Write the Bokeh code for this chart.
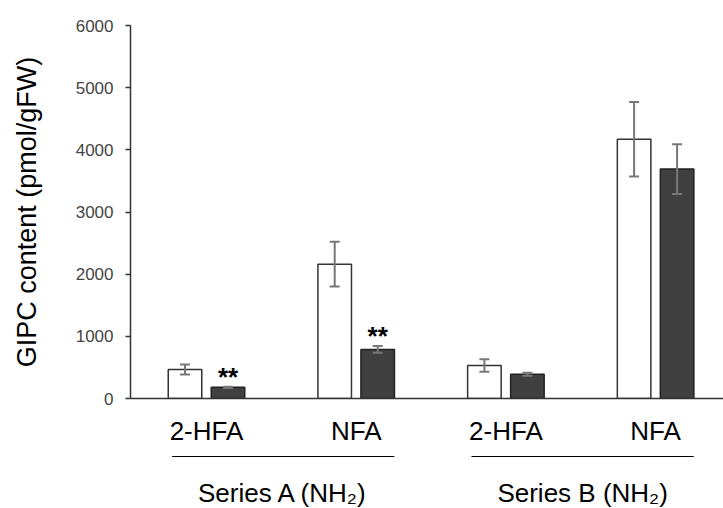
from bokeh.plotting import figure
from bokeh.layouts import column
from bokeh.models import ColumnDataSource, Whisker, TeeHead, FixedTicker, Range1d
from bokeh.core.properties import value
from bokeh.embed import file_html
from bokeh.resources import INLINE

# ---- data ----
groups = ["2-HFA", "NFA", "2-HFA", "NFA"]
series_names = ["Series A (NH\u2082)", "Series B (NH\u2082)"]
series_groups = [[0, 1], [2, 3]]
white_vals = [465, 2160, 530, 4170]
white_err = [80, 360, 100, 600]
dark_vals = [180, 790, 390, 3690]
dark_err = [10, 55, 25, 400]
significant = ["**", "**", "", ""]
y_ticks = [0, 1000, 2000, 3000, 4000, 5000, 6000]

# ---- layout constants ----
FONT = "Liberation Sans"
OFF = 0.1436
BW = 0.224
W = 723
TOP_H = 410
BOT_H = 98
CAT_Y = 78
LINE_Y = 52
SER_Y = 16

xi = list(range(len(groups)))
wx = [i - OFF for i in xi]
dx = [i + OFF for i in xi]

xr = Range1d(-0.5077, 3.4536)

p = figure(width=W, height=TOP_H, output_backend="svg", toolbar_location=None,
           x_range=xr, y_range=(0, 6000),
           min_border_left=130, min_border_right=0, min_border_top=25, min_border_bottom=12)
p.outline_line_color = None
p.grid.visible = False

xa = p.xaxis[0]
xa.ticker = FixedTicker(ticks=[])
xa.major_tick_line_color = None
xa.minor_tick_line_color = None
xa.major_tick_out = 0
xa.major_label_standoff = 0
xa.axis_line_color = "#333333"
xa.axis_line_width = 1.5

ya = p.yaxis[0]
ya.ticker = FixedTicker(ticks=y_ticks)
ya.minor_tick_line_color = None
ya.major_tick_in = 0
ya.major_tick_out = 5
ya.axis_line_color = "#333333"
ya.axis_line_width = 1.5
ya.major_tick_line_color = "#333333"
ya.major_tick_line_width = 1.5
ya.major_label_text_font = FONT
ya.major_label_text_font_size = "17px"
ya.major_label_text_color = "#444444"
ya.major_label_standoff = 12
ya.axis_label = "GIPC content (pmol/gFW)"
ya.axis_label_text_font = FONT
ya.axis_label_text_font_size = "27px"
ya.axis_label_text_font_style = "normal"
ya.axis_label_text_color = "black"
ya.axis_label_standoff = 31

src_w = ColumnDataSource(dict(x=wx, top=white_vals, up=[v + e for v, e in zip(white_vals, white_err)],
                              lo=[v - e for v, e in zip(white_vals, white_err)]))
src_d = ColumnDataSource(dict(x=dx, top=dark_vals, up=[v + e for v, e in zip(dark_vals, dark_err)],
                              lo=[v - e for v, e in zip(dark_vals, dark_err)], sig=significant))

p.vbar(x="x", top="top", bottom=0, width=BW, source=src_w, fill_color="white",
       line_color="#333333", line_width=1.5)
p.vbar(x="x", top="top", bottom=0, width=BW, source=src_d, fill_color="#404040",
       line_color="#222222", line_width=1.5)

for s in (src_w, src_d):
    w = Whisker(base="x", upper="up", lower="lo", source=s, line_color="#777777", line_width=2,
                level="overlay",
                upper_head=TeeHead(size=10, line_color="#777777", line_width=2),
                lower_head=TeeHead(size=10, line_color="#777777", line_width=2))
    p.add_layout(w)

p.text(x="x", y="up", text="sig", source=src_d, text_font=value(FONT), text_font_size="26px",
       text_font_style="bold", text_align="center", text_baseline="bottom", y_offset=5,
       text_color="black")

# ---- bottom panel: category labels, series lines and names ----
b = figure(width=W, height=BOT_H, output_backend="svg", toolbar_location=None,
           x_range=xr, y_range=(0, BOT_H),
           min_border_left=130, min_border_right=0, min_border_top=0, min_border_bottom=0)
b.outline_line_color = None
b.grid.visible = False
b.axis.visible = False

b.text(x=xi, y=[CAT_Y] * len(xi), text=groups, text_font=value(FONT), text_font_size="26px",
       text_align="center", text_baseline="alphabetic", text_color="black")

lx0 = [g[0] - 0.23 for g in series_groups]
lx1 = [g[-1] + 0.255 for g in series_groups]
b.segment(x0=lx0, x1=lx1, y0=[LINE_Y] * 2, y1=[LINE_Y] * 2, line_color="black", line_width=1.2)
b.text(x=[(a + c) / 2 for a, c in zip(lx0, lx1)], y=[SER_Y] * 2, text=series_names,
       text_font=value(FONT), text_font_size="26px", text_align="center",
       text_baseline="alphabetic", text_color="black")

layout = column(p, b, spacing=0)
open("out.html", "w").write(file_html(layout, INLINE))
